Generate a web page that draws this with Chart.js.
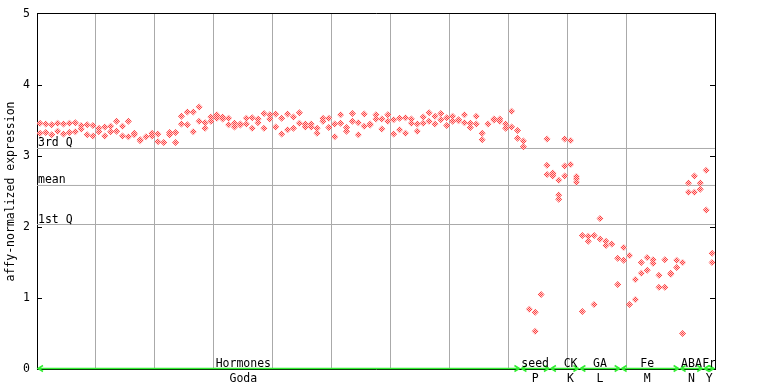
<!DOCTYPE html>
<html><head><meta charset="utf-8">
<script src="https://cdn.jsdelivr.net/npm/chart.js@4/dist/chart.umd.min.js"></script>
<style>html,body{margin:0;padding:0;background:#fff}canvas{display:block}</style>
</head><body>
<canvas id="c" width="768" height="384"></canvas>
<script>
// ---- data ----
const sectionNames = ['Hormones','seed','CK','GA','Fe','ABA','Fr'];
const sectionCodes = ['Goda','P','K','L','M','N','Y'];
const sectionStarts = [0, 82, 87, 92, 99, 109, 113];
const sectionLabelAt = [35, 84.5, 90.5, 95.5, 103.5, 111, 114];
const slotCount = 115;
const yTicks = [0, 1, 2, 3, 4, 5];
const quartileNames = ['3rd Q', 'mean', '1st Q'];
const quartileValues = [3.106, 2.585, 2.035];

const godaValues = [
 [3.46,3.32],[3.45,3.33],[3.44,3.30],[3.46,3.35],[3.45,3.31],[3.46,3.33],[3.47,3.34],[3.43,3.38],[3.44,3.30],[3.43,3.28],
 [3.39,3.34],[3.41,3.28],[3.42,3.34],[3.49,3.35],[3.42,3.28],[3.49,3.27],[3.32,3.30],[3.23,3.216],[3.27],[3.32,3.28],
 [3.31,3.20],[3.19],[3.33,3.30],[3.33,3.19],[3.56,3.45],[3.62,3.44],[3.62,3.34],[3.69,3.49],[3.47,3.39],[3.55,3.49],
 [3.58,3.566,3.53],[3.55,3.52],[3.53,3.44],[3.46,3.41],[3.45,3.436],[3.53,3.45],[3.54,3.39],[3.52,3.47],[3.60,3.39],[3.58,3.52],
 [3.59,3.41],[3.53,3.31],[3.59,3.37],[3.55,3.39],[3.61,3.46],[3.45,3.41],[3.45,3.41],[3.39,3.32],[3.53,3.49],[3.53,3.40],
 [3.45,3.27],[3.58,3.46],[3.40,3.35],[3.60,3.49],[3.47,3.30],[3.59,3.42],[3.45,3.436],[3.58,3.52],[3.52,3.38],[3.58,3.49],
 [3.51,3.31],[3.53,3.37],[3.54,3.32],[3.52,3.46],[3.45,3.35],[3.55,3.46],[3.61,3.49],[3.56,3.45],[3.60,3.51],[3.54,3.43],
 [3.56,3.49],[3.51,3.496],[3.58,3.47],[3.46,3.40],[3.56,3.45],[3.32,3.23],[3.45],[3.52,3.506],[3.52,3.49],[3.45,3.39],
 [3.63,3.41],[3.36,3.25]
];
const seedValues = [[3.21,3.13],[0.84],[0.80,0.53],[1.05],[3.24,2.87,2.74]];
const ckValues = [[2.76,2.746,2.72],[2.66,2.45,2.39],[3.24,2.86,2.72],[3.22,2.88],[2.71,2.68,2.63]];
const gaValues = [[1.88,0.81],[1.87,1.80],[1.88,0.91],[2.12,1.83],[1.80,1.74],[1.76],[1.56,1.19]];
const feValues = [[1.71,1.53],[1.60,0.91],[1.26,0.98],[1.50,1.35],[1.57,1.39],[1.54,1.49],[1.32,1.15],[1.54,1.15],[1.35,1.336],[1.53,1.43]];
const abaValues = [[1.50,0.50],[2.62,2.49],[2.72,2.49],[2.62,2.53]];
const frValues = [[2.80,2.24],[1.63,1.50]];
const sectionValues = [godaValues, seedValues, ckValues, gaValues, feValues, abaValues, frValues];

// ---- build ----
const FONT = '"DejaVu Sans Mono", "Liberation Mono", monospace';
const canvas = document.getElementById('c');
const ctx = canvas.getContext('2d');

const pc = document.createElement('canvas');
pc.width = 2; pc.height = 2;
const pctx = pc.getContext('2d');
pctx.fillStyle = '#ff4040';
pctx.fillRect(0, 0, 1, 1);
pctx.fillRect(1, 1, 1, 1);
pctx.fillStyle = '#ffd0d0';
pctx.fillRect(1, 0, 1, 1);
pctx.fillRect(0, 1, 1, 1);
const checker = ctx.createPattern(pc, 'repeat');

const points = [];
sectionValues.forEach((vals, s) => {
  vals.forEach((reps, i) => {
    reps.forEach(v => points.push({x: sectionStarts[s] + i + 0.5, y: v}));
  });
});
const sectionEnds = sectionStarts.map((st, s) => st + sectionValues[s].length);

const quartileSets = quartileValues.map(q => ({
  type: 'line',
  data: [{x: 0, y: q}, {x: slotCount, y: q}],
  borderColor: '#aaaaaa', borderWidth: 1, pointRadius: 0, fill: false, order: 5
}));

const deco = {
  id: 'deco',
  afterDraw(chart) {
    const c = chart.ctx, a = chart.chartArea;
    const xs = chart.scales.x, ys = chart.scales.y;
    c.save();
    // frame
    c.strokeStyle = '#000'; c.lineWidth = 1;
    c.beginPath();
    c.moveTo(a.left, a.top + 0.5 - 1); c.lineTo(a.right + 0.5, a.top + 0.5 - 1);
    c.moveTo(a.right + 0.5, a.top - 1); c.lineTo(a.right + 0.5, a.bottom);
    c.stroke();
    // inward ticks
    c.beginPath();
    yTicks.slice(1, -1).forEach(t => {
      const y = Math.round(ys.getPixelForValue(t)) + 0.5;
      c.moveTo(a.left, y); c.lineTo(a.left + 5, y);
      c.moveTo(a.right + 0.5, y); c.lineTo(a.right - 5, y);
    });
    c.stroke();
    // quartile labels
    c.fillStyle = '#000';
    c.font = '11.5px ' + FONT;
    c.textAlign = 'left'; c.textBaseline = 'bottom';
    quartileValues.forEach((q, i) => {
      c.fillText(quartileNames[i], a.left + 1, Math.round(ys.getPixelForValue(q)) + 0.5);
    });
    // section arrows
    const y0 = Math.round(ys.getPixelForValue(0)) - 0.5;
    c.strokeStyle = '#33ee33';
    sectionStarts.forEach((st, s) => {
      const x1 = xs.getPixelForValue(st) + 1;
      const x2 = xs.getPixelForValue(sectionEnds[s]) - 1;
      c.beginPath();
      c.moveTo(x1, y0); c.lineTo(x2, y0);
      c.moveTo(x1 + 5, y0 - 3); c.lineTo(x1, y0); c.lineTo(x1 + 5, y0 + 3);
      c.moveTo(x2 - 5, y0 - 3); c.lineTo(x2, y0); c.lineTo(x2 - 5, y0 + 3);
      c.lineWidth = 1.5;
      c.stroke();
    });
    // section labels
    c.fillStyle = '#000';
    c.textAlign = 'center';
    sectionNames.forEach((n, s) => {
      const x = xs.getPixelForValue(sectionLabelAt[s]);
      c.textBaseline = 'alphabetic';
      c.fillText(n, x, a.bottom - 2);
      c.fillText(sectionCodes[s], x, a.bottom + 13);
    });
    c.restore();
  }
};

new Chart(ctx, {
  type: 'scatter',
  data: {
    datasets: [
      {
        data: points,
        pointStyle: 'rectRot',
        pointRadius: 3.5,
        pointBackgroundColor: checker,
        pointBorderWidth: 0,
        pointBorderColor: 'rgba(0,0,0,0)',
        order: 1
      },
      ...quartileSets
    ]
  },
  options: {
    responsive: false,
    animation: false,
    events: [],
    plugins: { legend: { display: false }, tooltip: { enabled: false } },
    layout: { padding: { top: 14, right: 53, bottom: 15, left: 0 } },
    scales: {
      x: {
        type: 'linear', min: 0, max: slotCount,
        ticks: { display: false, stepSize: 10 },
        grid: { color: '#aaaaaa', drawTicks: false, lineWidth: 1 },
        border: { color: '#000', width: 1 },
        afterFit(s) { s.height = 0; }
      },
      y: {
        min: 0, max: 5,
        afterBuildTicks(s) { s.ticks = yTicks.map(v => ({value: v})); },
        ticks: { color: '#000', font: { family: FONT, size: 11.5 }, padding: 7 },
        grid: { drawOnChartArea: false, drawTicks: false },
        border: { color: '#000', width: 1 },
        title: { display: true, text: 'affy-normalized expression', color: '#000', font: { family: FONT, size: 11.5 }, padding: { top: 4, bottom: 0 } },
        afterFit(s) { s.width = 37; }
      }
    }
  },
  plugins: [deco]
});
</script>
</body></html>
